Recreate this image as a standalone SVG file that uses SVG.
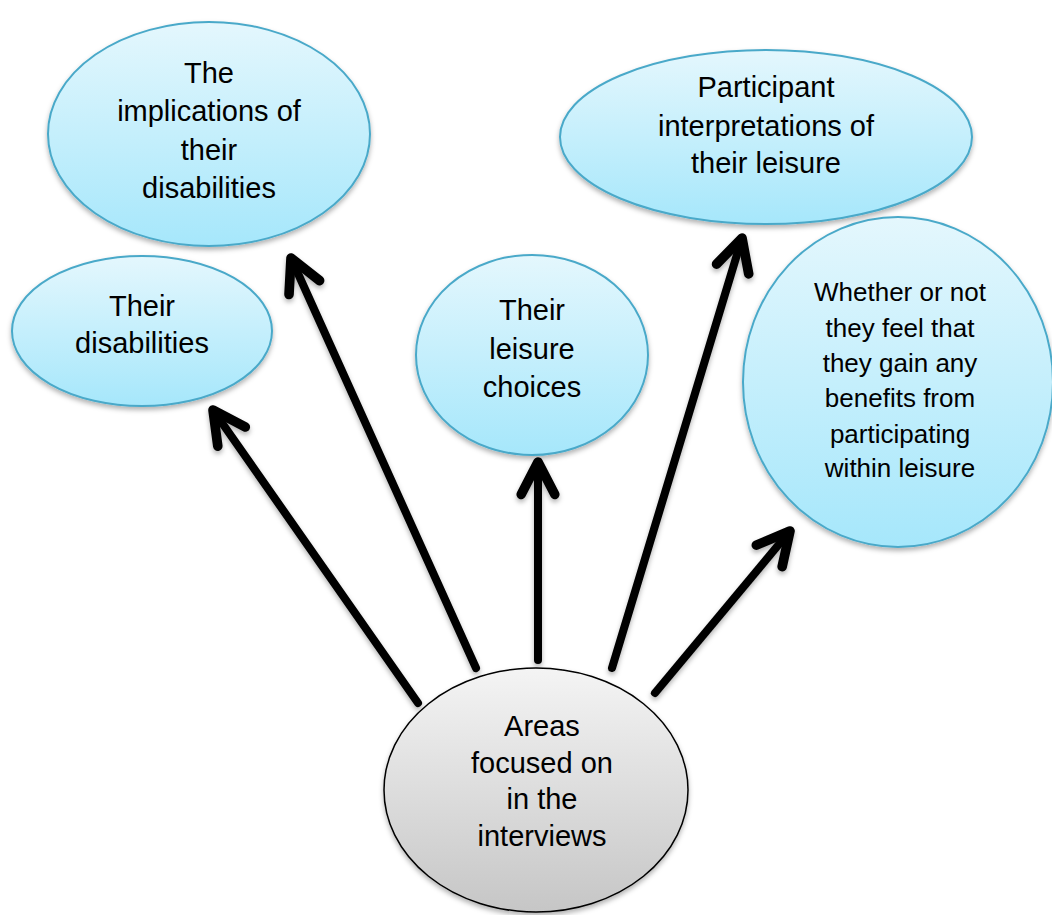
<svg xmlns="http://www.w3.org/2000/svg" width="1052" height="915" viewBox="0 0 1052 915">
<defs>
<linearGradient id="blue" x1="0" y1="0" x2="0" y2="1">
<stop offset="0" stop-color="#e4f7fd"/>
<stop offset="1" stop-color="#a6e7fb"/>
</linearGradient>
<linearGradient id="gray" x1="0" y1="0" x2="0" y2="1">
<stop offset="0" stop-color="#f4f4f4"/>
<stop offset="1" stop-color="#c6c6c6"/>
</linearGradient>
<filter id="sh" x="-10%" y="-10%" width="120%" height="125%">
<feDropShadow dx="0" dy="3" stdDeviation="2.5" flood-color="#000" flood-opacity="0.3"/>
</filter>
<filter id="sh2" filterUnits="userSpaceOnUse" x="0" y="0" width="1052" height="915">
<feDropShadow dx="0" dy="3" stdDeviation="2.5" flood-color="#000" flood-opacity="0.3"/>
</filter>
<marker id="head" markerUnits="userSpaceOnUse" orient="auto" markerWidth="60" markerHeight="60" refX="0" refY="0" viewBox="-35 -25 45 50" overflow="visible">
<path d="M -27 -14 L 0 0 L -27 14" fill="none" stroke="#000" stroke-width="8" stroke-linecap="round" stroke-linejoin="round"/>
</marker>
</defs>
<style>
.b{fill:url(#blue);stroke:#4aa9c9;stroke-width:2;filter:url(#sh)}
.g{fill:url(#gray);stroke:#000;stroke-width:1.5;filter:url(#sh)}
text{font-family:"Liberation Sans",Arial,sans-serif;font-size:29px;fill:#000;text-anchor:middle}
.s{font-size:26px}
.a{fill:none;stroke:#000;stroke-width:8;stroke-linecap:round;marker-end:url(#head)}
</style>
<g id="connectors" filter="url(#sh2)">
<line class="a" x1="418" y1="703" x2="213" y2="410"/>
<line class="a" x1="476" y1="668" x2="291" y2="258"/>
<line class="a" x1="538" y1="660" x2="538" y2="462"/>
<line class="a" x1="612" y1="668" x2="742" y2="238"/>
<line class="a" x1="655" y1="693" x2="790" y2="531"/>
</g>
<g id="n1">
<ellipse class="b" cx="209" cy="134" rx="161" ry="112"/>
<text x="209" y="83">The</text>
<text x="209" y="121">implications of</text>
<text x="209" y="160">their</text>
<text x="209" y="198">disabilities</text>
</g>
<g id="n2">
<ellipse class="b" cx="142" cy="331" rx="130" ry="75"/>
<text x="142" y="316">Their</text>
<text x="142" y="353">disabilities</text>
</g>
<g id="n3">
<ellipse class="b" cx="532" cy="355" rx="116" ry="100"/>
<text x="532" y="320">Their</text>
<text x="532" y="359">leisure</text>
<text x="532" y="397">choices</text>
</g>
<g id="n4">
<ellipse class="b" cx="766" cy="137" rx="206" ry="87"/>
<text x="766" y="97">Participant</text>
<text x="766" y="136">interpretations of</text>
<text x="766" y="173">their leisure</text>
</g>
<g id="n5">
<ellipse class="b" cx="898" cy="382" rx="155" ry="165"/>
<text class="s" x="900" y="301">Whether or not</text>
<text class="s" x="900" y="337">they feel that</text>
<text class="s" x="900" y="372">they gain any</text>
<text class="s" x="900" y="407">benefits from</text>
<text class="s" x="900" y="443">participating</text>
<text class="s" x="900" y="477">within leisure</text>
</g>
<g id="center">
<ellipse class="g" cx="536" cy="790" rx="152" ry="122"/>
<text x="542" y="736">Areas</text>
<text x="542" y="773">focused on</text>
<text x="542" y="809">in the</text>
<text x="542" y="846">interviews</text>
</g>
</svg>
